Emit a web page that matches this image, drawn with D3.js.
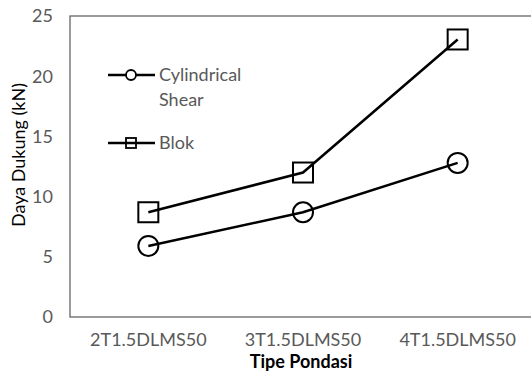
<!DOCTYPE html>
<html>
<head>
<meta charset="utf-8">
<script src="https://cdn.jsdelivr.net/npm/d3@7"></script>
<style>
  body { margin: 0; background: #fff; }
  text { font-family: Lato, "Open Sans", sans-serif; }
</style>
</head>
<body>
<svg id="chart" width="531" height="374"></svg>
<script>
// values
var categories = ["2T1.5DLMS50", "3T1.5DLMS50", "4T1.5DLMS50"];
var cylindricalShear = [5.9, 8.7, 12.8];
var blok = [8.7, 12.0, 23.05];
var yTicks = [0, 5, 10, 15, 20, 25];

var svg = d3.select("#chart");
var plotLeft = 70, plotRight = 535, plotTop = 16, plotBottom = 317;

var x = d3.scaleBand().domain(categories).range([plotLeft + 1, plotRight]);
var y = d3.scaleLinear().domain([0, 25]).range([plotBottom, plotTop]);

// plot frame (right edge falls outside the picture)
svg.append("rect")
  .attr("x", plotLeft).attr("y", plotTop)
  .attr("width", plotRight - plotLeft).attr("height", plotBottom - plotTop)
  .attr("fill", "none").attr("stroke", "#595959").attr("stroke-width", 1.2);

// y axis labels
svg.selectAll("text.ytick").data(yTicks).enter()
  .append("text")
  .attr("class", "ytick")
  .attr("x", 53)
  .attr("y", function(d){ return y(d); })
  .attr("dy", "0.35em")
  .attr("text-anchor", "end")
  .attr("fill", "#595959")
  .style("font-size", "18px")
  .text(function(d){ return d; });

// x axis labels
svg.selectAll("text.xtick").data(categories).enter()
  .append("text")
  .attr("class", "xtick")
  .attr("x", function(d){ return x(d) + x.bandwidth() / 2; })
  .attr("y", 340)
  .attr("dy", "0.35em")
  .attr("text-anchor", "middle")
  .attr("fill", "#595959")
  .style("font-size", "18px")
  .text(function(d){ return d; });

svg.append("text")
  .attr("x", 301).attr("y", 362)
  .attr("dy", "0.35em")
  .attr("text-anchor", "middle")
  .style("font-size", "18px").style("font-weight", "bold")
  .attr("fill", "#000")
  .text("Tipe Pondasi");

svg.append("text")
  .attr("transform", "translate(19,155) rotate(-90)")
  .attr("dy", "0.35em")
  .attr("text-anchor", "middle")
  .style("font-size", "18px")
  .attr("fill", "#000")
  .text("Daya Dukung (kN)");

var line = d3.line()
  .x(function(d, i){ return x(categories[i]) + x.bandwidth() / 2; })
  .y(function(d){ return y(d); });

function drawSeries(values, shape){
  svg.append("path")
    .datum(values)
    .attr("d", line)
    .attr("fill", "none")
    .attr("stroke", "#000")
    .attr("stroke-width", 2.5);
  var g = svg.selectAll("g." + shape).data(values).enter()
    .append("g")
    .attr("class", shape)
    .attr("transform", function(d, i){
      return "translate(" + (x(categories[i]) + x.bandwidth() / 2) + "," + y(d) + ")";
    });
  if (shape === "circle") {
    g.append("circle").attr("r", 10)
      .attr("fill", "none").attr("stroke", "#000").attr("stroke-width", 2);
  } else {
    g.append("rect").attr("x", -10).attr("y", -10).attr("width", 20).attr("height", 20)
      .attr("fill", "none").attr("stroke", "#000").attr("stroke-width", 2);
  }
}
drawSeries(cylindricalShear, "circle");
drawSeries(blok, "square");

// legend
var legend = svg.append("g");
[{name: ["Cylindrical", "Shear"], y: 75, shape: "circle"},
 {name: ["Blok"], y: 143, shape: "square"}].forEach(function(item){
  legend.append("line")
    .attr("x1", 108).attr("x2", 155)
    .attr("y1", item.y).attr("y2", item.y)
    .attr("stroke", "#000").attr("stroke-width", 2.5);
  if (item.shape === "circle") {
    legend.append("circle").attr("cx", 131).attr("cy", item.y).attr("r", 5)
      .attr("fill", "#fff").attr("stroke", "#000").attr("stroke-width", 1.8);
  } else {
    legend.append("rect").attr("x", 126).attr("y", item.y - 5).attr("width", 10).attr("height", 10)
      .attr("fill", "none").attr("stroke", "#000").attr("stroke-width", 1.8);
  }
  item.name.forEach(function(t, i){
    legend.append("text")
      .attr("x", 159).attr("y", item.y + i * 25)
      .attr("dy", "0.35em")
      .attr("fill", "#595959")
      .style("font-size", "18px")
      .text(t);
  });
});
</script>
</body>
</html>
